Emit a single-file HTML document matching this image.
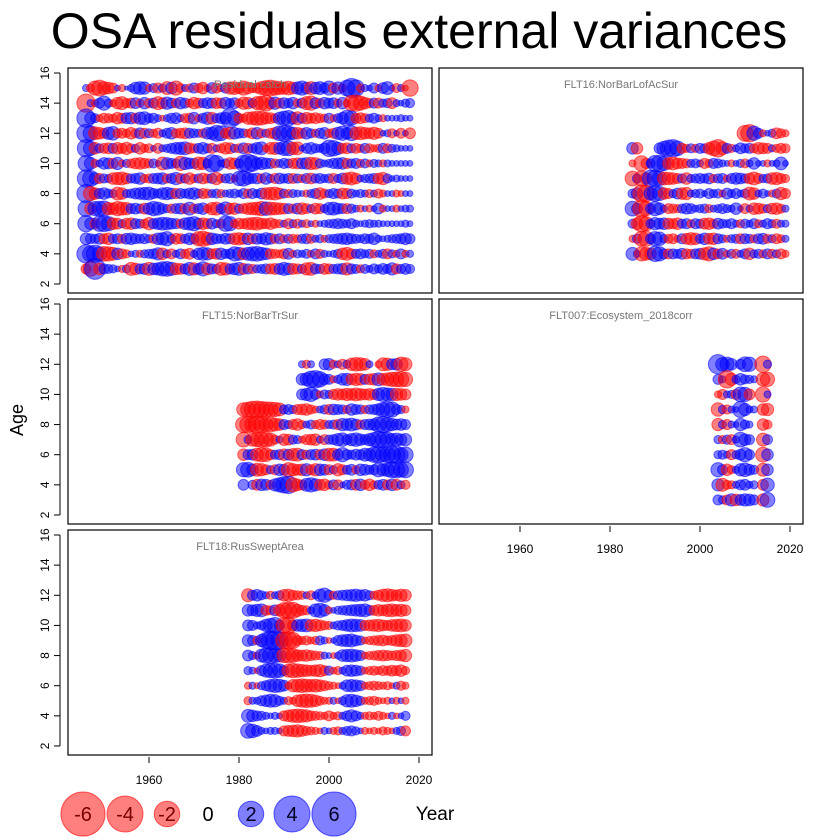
<!DOCTYPE html>
<html><head><meta charset="utf-8"><style>
body{margin:0;background:#fff}
svg{display:block;font-family:"Liberation Sans",Arial,sans-serif}
</style></head><body>
<svg id="chart" width="840" height="840" viewBox="0 0 840 840" xmlns="http://www.w3.org/2000/svg">
<text x="419" y="48" font-size="50" text-anchor="middle">OSA residuals external variances</text>
<text x="0" y="0" transform="translate(23,420) rotate(-90)" font-size="18" text-anchor="middle">Age</text>
<text x="435" y="820" font-size="19" text-anchor="middle">Year</text>
<g id="panels"></g>
<g id="legend"></g>
</svg>
<script>
// ---- data: residuals per panel, rows listed from oldest age to youngest ----
const xTickYears = [1960, 1980, 2000, 2020];
const yTickAges = [2, 4, 6, 8, 10, 12, 14, 16];
const legendValues = [-6, -4, -2, 0, 2, 4, 6];

const catchFirstYear = 1946;
const catchAges = [15,14,13,12,11,10,9,8,7,6,5,4,3];
const catchRes = [
[.3,-.4,-1.2,-1.5,-1,-.8,-.6,.2,-.3,.1,.3,.8,1,.9,-.3,.5,-.6,.4,-1,.8,-1.2,-.5,.3,-.4,.6,-.5,-.8,-.3,.7,-.6,-.3,.6,-.9,-1,-.7,-1.2,-.8,-.5,-.6,-1,-1.3,-1.5,-1.2,-1,-.9,-1.1,-.8,.9,1.2,.8,-1,.8,1,.6,1.2,-.6,.9,-.4,1.5,2.2,1.6,-.4,.3,.2,.6,-.3,.7,1,.2,-.5,.3,-.2,-1.6],
[-2,.3,-.3,.6,1.2,.4,-.3,-.8,-1,-.5,-.6,.7,-.4,.8,-.5,.6,-1,-.7,.9,.6,-.5,.8,.6,-.4,-.8,-.6,.5,.7,.6,-.7,-.6,.8,.5,.7,-.4,-.9,-.8,.5,-1,-1.2,-1.5,-.8,.9,-.6,.7,.5,.8,-.4,.6,-1,-1.2,.7,-.5,.8,.6,.7,-.4,.8,-.3,-1.4,-1.6,-1.2,-.8,-.5,.6,-.6,.4,.5,-.7,.3,.2,.4,.5],
[2,.8,.5,-.3,-.6,-.5,-.4,-.8,-.6,.7,.8,-.6,.9,1,.5,.6,.3,-.2,.3,.6,.7,.3,-.5,-.6,.8,-.3,.6,.9,-.8,.5,.7,.8,2.2,1.2,-.6,-.4,-.9,-1,-1.2,-1.1,-.8,-.7,-.5,.9,1.2,1.4,.8,-1,.6,-.8,-.6,-.7,-.5,-.4,.6,-.3,.5,.8,1.5,1.2,-.6,-.7,-.5,.4,.6,.3,-.3,.2,.2,.2,.3,.2,.2],
[2,1.3,-1,-.8,-.6,.9,1.1,-.5,-.6,-.4,-.8,-.5,.7,-.6,.5,-.4,-.6,.3,.6,.8,-.5,-.6,-.7,.6,.5,.4,-.5,.8,.9,1.5,1.3,-.6,-.8,.8,.6,.5,-.4,-.7,.8,-.5,.4,-.6,-.8,1.3,1.5,1.2,.9,-.8,-.6,.8,.5,-.4,.6,.8,-.4,-.6,.9,1.2,.8,1.3,-.9,-1,-.8,-.7,-.9,-.6,.2,.3,-.5,.2,-.6,.2,-.7],
[1.8,1.2,-.8,.5,-.6,-.7,.6,-.8,-.6,-.9,-.5,.4,-.8,-.4,-.5,.2,-.6,.3,.4,.6,.8,.9,1,-.7,-.5,.6,.8,.5,-.6,.3,-.5,-.8,-.7,.4,-.5,.7,-.6,.5,.8,1,-.3,-.8,-.9,.8,1.2,1.3,-.9,-1,.2,.6,.8,.5,.4,.7,1.6,1.4,.9,-.6,-.7,.5,-.6,-.4,.6,-.5,-.3,-.4,.6,-.5,.4,.3,.2,.2,.2],
[1.5,.9,-.4,.3,.8,.7,-.6,.9,-.3,.4,-.5,-.7,-.8,-.6,-.5,.5,.2,-1,.8,.6,.5,-1.2,.9,.7,.6,-1,-.9,.5,1.8,1.5,.3,.5,-.8,-.7,.5,1.6,2,1.5,.8,.9,.7,.6,-.5,.4,.6,.5,-.6,-.7,.7,.8,-.9,-.8,.5,.3,.4,.6,.7,.8,-.6,.5,.6,-.4,.5,-.3,.4,.3,-.3,.3,.2,.2,.2,.2,.2],
[1.8,1.5,.8,-.6,.5,.4,-.8,-.9,-1,-.7,.5,.6,.8,-.4,-.5,.6,.7,.8,-.5,.6,.9,-.6,.5,-.8,-.4,.5,-.7,-.5,.6,-.9,-.4,.5,.6,-.3,1.2,1.4,.8,.6,.7,-.5,.8,.4,-.6,.7,.5,.6,-.6,.5,-.4,.6,-.7,.5,.6,.4,.5,-.6,.4,.7,-.8,-1,-.7,.3,.4,.5,.6,-.7,-.9,.5,.2,.3,.2,.2,.2],
[2,-1.2,-.8,.6,.8,.5,.4,-1,-.8,.4,.5,.7,.8,.9,1,.6,.5,.8,.9,.7,-.6,.6,.5,.7,.8,.5,-.6,-.5,.4,.5,-.4,.3,.4,.5,.3,.6,-.5,.6,.4,.7,-.8,-.9,-1,-.7,.5,-.4,.4,.3,.2,-.3,.4,.6,-.8,-.5,.4,.6,.5,-.7,-.6,.5,.3,.4,.3,-.4,.3,-.5,-.3,.2,.2,-.3,-.2,.2,.2],
[1.5,-.8,1.2,1.3,1.4,-.9,-.8,-1.2,-1,-.9,.6,.7,.5,-.7,.8,1.2,1,.6,.4,-.5,.6,.7,-.6,1,-.5,.6,.8,-.4,-.9,-1,.6,1.1,-.7,-.8,.5,-.6,-.8,-.9,-1,-1.2,1.1,-1,-.9,-.8,-.7,.6,-.5,.7,-.8,-.6,.4,-.7,-.6,.4,.9,1,.7,.6,-.6,.5,.3,-.3,.2,-.3,.2,.7,-.3,.2,.2,-.3,.2,.3,.3],
[1.6,.8,-.6,1.4,1.5,1.2,-.8,-.7,.4,-.7,-.8,.6,.5,-.5,-.9,.6,.8,1,.9,.7,.6,-.5,.8,1,1.2,.7,-.8,-.6,.7,.4,-.5,1.4,1.2,-.4,-.7,-.6,-.8,-.9,-1,-.7,-.6,-.8,-.5,-.4,.3,-.6,.4,-.5,.3,-.4,.2,-.3,.2,.3,.4,.5,.6,.5,.4,.6,.3,.2,.3,.4,.3,.3,.2,.2,.2,.2,.2,.3,.2],
[.8,.6,.5,.7,-.6,-.8,.5,.6,-.5,.7,.8,.6,.5,.6,.4,-.5,.8,.9,1.2,.5,-.7,-.6,.5,.8,.6,-1.2,-1.4,-1,.8,.6,.5,.7,.6,-.8,-.9,-.7,.8,-.6,.7,.6,.9,.7,-.5,.6,-.4,.5,-.5,-.4,.5,.6,-.5,.3,.4,-.3,.4,.5,.6,.7,.8,.6,.5,.4,.6,.5,.8,.3,.2,.3,.4,.5,.6,.8,.6],
[2,1.5,1.8,1.2,-1.3,-1.2,-1,.8,-.6,-.4,.2,.3,-.3,.4,.5,.6,.9,-.8,.4,-.6,.3,.6,-.5,-.7,.3,.8,1,.9,-.6,-.7,.8,.5,.6,1.2,1,-.8,1,1.2,1.3,1,.8,-.6,-.5,-.4,-.6,.7,-.3,.4,.3,.5,-.3,.6,-.5,.3,.2,.3,.5,-.8,-1,-.6,.5,.6,.4,.5,-.4,.3,.5,-.6,.4,-.3,.6,-.3,.3],
[-.6,-1.3,2.6,-.8,.6,.5,.4,.2,-.3,.4,-1,-.8,.6,.7,-1,.8,.9,1.2,1.3,1,-.8,-.7,.6,1,-.9,.7,1.2,-.8,.6,.5,-1,-.9,.6,.8,1,-.7,.6,-.5,.4,.5,.6,-.6,-.7,.7,1,.8,-.7,-.6,.5,-.9,-1,.6,.5,-.7,-.6,.5,.6,.7,-.9,.6,.5,-.4,.5,.3,.6,.4,.7,.5,.9,-.6,.5,.7,.5]
];

const flt16FirstYear = 1985;
const flt16Ages = [12,11,10,9,8,7,6,5,4];
const flt16Res = [
[0,0,0,0,0,0,0,0,0,0,0,0,0,0,0,0,0,0,0,0,0,0,0,0,0,-1.5,-1.8,1.2,.6,-.3,.2,.4,-.7,-.5,-.3],
[.8,-.8,0,0,0,0,.7,1.2,1.6,1.8,1.3,-.6,-.4,.5,-.4,.6,.5,-.8,-1.3,-1.8,-1,.6,-.4,.3,.7,.5,.6,-.5,-.8,-.7,-.6,.3,-.4,-.6,-.5],
[-.3,0,-1.4,-.6,.5,1.5,1.6,1.2,-.8,-1,-.7,-.6,-.5,.4,.5,.3,-.6,-.4,.6,.5,.3,.2,-.3,.2,.4,-.5,.3,.8,.2,.2,-.3,.2,.3,1,.2],
[-1.3,.5,-1.4,-.8,1.6,1.5,1.2,-1,-.9,-.8,-.6,.5,-.8,.4,.5,.6,.5,.7,-.4,.5,.6,-.3,.6,.8,.7,.5,-.7,-1,-.6,.4,.5,-.8,-.9,-.6,-.4],
[.5,.8,-1.8,-1.6,1,1.4,1.2,-.8,-.6,.4,.7,-.8,-.9,.3,.4,.5,.2,.6,.4,.5,-.3,.7,.4,.6,.3,.5,-1,-.8,.3,.5,.2,-.3,.5,-.9,-.6],
[1.3,.7,-1.8,-1.2,.6,1.2,.8,.3,-.6,-.5,-.4,.5,.7,.6,.3,.4,.5,-.4,.3,.4,.6,.4,.3,.8,.2,-.6,.3,-.8,-.7,-.5,.4,-.7,-.8,-.5,.3],
[.5,-.8,-1.6,-1.2,.5,.9,.7,.8,-.7,-.6,-.8,.5,.6,-.4,.6,.5,-.7,-.8,-.5,.7,.5,.4,.6,.3,-.4,.5,.3,.6,-.4,.3,.6,.4,-.5,.3,.3],
[-.3,.5,-1.3,-1.4,.6,1.2,1.1,.4,-.5,-.6,-.3,.6,-.7,-.9,-.8,.5,.8,-.7,-.8,.6,.4,-.3,.4,.5,-.6,.6,.5,-.4,.6,.7,-.5,.4,-.6,-.4,.3],
[1,.3,-1.2,-1,-.8,1.4,1.2,.6,-.6,.6,.5,.7,-.6,-.5,.6,.7,-.9,-1.2,.8,-.6,.7,-.3,.5,-.5,.3,.6,-.8,.4,.5,-.4,.6,-.5,.4,-.6,-.3]
];

const flt15FirstYear = 1981;
const flt15Ages = [12,11,10,9,8,7,6,5,4];
const flt15Res = [
[0,0,0,0,0,0,0,0,0,0,0,0,0,.3,-.4,.3,0,0,.7,.8,-.4,.3,-.6,.4,-.9,-1.1,-1,-.8,.3,0,-.3,-1,-.9,.7,.8,-1.2,-1,0],
[0,0,0,0,0,0,0,0,0,0,0,0,0,.8,1,1.6,1.8,1.4,.7,.6,-.3,.4,.8,.9,-.7,-.9,-.8,.6,-.7,-.8,1,-.8,-1,-1.2,-1.3,-1.4,-1.2,0],
[0,0,0,0,0,0,0,0,0,0,0,0,0,.7,.9,1.2,.6,-.3,.5,.4,-.6,-.8,-.7,-.9,-.8,-1,-.8,-.7,-.8,-.6,.9,1.2,1,.9,-.9,-.8,-.7,0],
[-1.1,-1.3,-1.6,-1.7,-1.5,-1.4,-1.3,-1.2,-1,.5,.6,.4,-.6,-.7,-.8,-.5,-.3,.3,.5,-.6,.7,.6,.5,-.4,.8,.6,.5,-.4,.5,.6,.8,1.2,1.5,1.4,.6,.4,-.3,0],
[-1.5,-1.6,-1.4,-1.8,-1.5,-1.2,-1.3,-1,-.8,.6,.4,-.6,-.8,-.4,.3,.5,-.4,-.6,-.5,.4,.5,-.6,.9,.8,1,.7,-.5,.6,.7,.8,1.4,1.6,1.2,.9,.7,.8,.6,0],
[-1.3,.4,-1,-1.2,-1.4,-1.3,-1,-.5,.3,-.8,-.7,.5,.4,-.3,-.6,-.7,-.8,.3,-.6,.5,.6,.9,1.1,.6,.9,1.1,.8,.6,.9,1.2,1.6,1.4,1.3,.9,1,.8,.9,0],
[-.8,.6,.7,-1,-1.2,-1.1,-.6,.5,.6,-.8,.7,-.9,-1,.6,-.5,.6,.7,-.6,.8,-1,-1,.7,1.2,.6,.5,.7,.6,1,.9,1.4,1.6,1.3,1.5,1.7,1.8,1.2,1.4,0],
[1.2,1.3,.8,-1,-.9,-.6,.4,-.6,.8,.7,-1.2,-.9,-.7,-.8,.9,-.6,-.9,.8,.7,-.6,.4,-.9,-.6,.5,.7,-.4,.8,.7,.5,.6,1.2,.9,1.1,1.5,1.6,1.3,1.5,0],
[.7,0,.5,-.7,.8,.7,-.5,.9,1.2,1.6,1.8,-1.2,-.8,-.6,1,1.2,.9,-.7,-.8,-.4,.6,-.6,.2,.5,.6,-.7,.8,-.5,-.8,-.4,.5,.7,-.6,.8,-.7,.4,-.5,0]
];

const flt007FirstYear = 2004;
const flt007Ages = [12,11,10,9,8,7,6,5,4,3];
const flt007Res = [
[2.2,1.1,1.2,.8,0,.6,1.3,1.2,0,0,-1.6,.4,0,0],
[.6,.3,-1.8,-.9,.4,.8,.5,.4,.3,0,-1.1,-1.2,0,0],
[-.3,-.6,.3,.4,-.6,1.3,1.2,-.7,0,0,-1.4,.3,0,0],
[-1.1,.4,-.5,.3,.2,1.5,.9,.3,.3,0,-.8,-.9,0,0],
[-.9,.4,-.6,.3,.2,.9,.5,.3,0,0,-.8,-.5,0,0],
[.4,-.4,.5,-.6,.3,1.3,.8,.6,0,0,-1,.6,0,0],
[.4,.5,.3,-.6,.4,.7,1.2,.6,0,0,-1.3,.8,0,0],
[1.2,.6,-.8,-.4,.3,.9,1.1,.7,.5,0,-1,.8,0,0],
[.9,-1,-.5,-.4,.3,.6,.7,.3,.4,0,-.7,1.1,0,0],
[.6,.4,-.6,.9,-.8,.7,.9,.8,.6,0,-.9,1.3,0,0]
];

const flt18FirstYear = 1982;
const flt18Ages = [12,11,10,9,8,7,6,5,4,3];
const flt18Res = [
[-1,.6,.8,.5,.3,-.4,.3,.5,-.8,-.9,-.6,-.5,-.4,.3,-.5,.3,.9,1.2,.6,-.4,.5,.6,.7,.8,.9,.7,.8,.5,-.4,-.6,-.9,-1,-.8,-.7,-.9,-.8],
[.8,.7,.9,1,-.6,-.5,.7,-.8,-1.4,-1.6,-1.5,-.9,-.6,-.5,.3,1,1.2,.8,-.3,.2,.4,.5,.6,.7,.8,.9,1,.6,-.6,-.8,-.7,-.9,-1,-.8,-.9,-.7],
[.7,.6,.3,.5,.9,1.2,1.5,.6,-1.5,-1.6,-.7,.8,.9,1,-.8,-.9,-.7,-.5,-.4,.3,.5,.6,.8,1,.9,.8,-.6,-.7,-.8,-.9,-.7,-.6,-.8,-.9,-1,-.8],
[.8,.6,-.4,.9,1.5,2,2.2,1.8,-1.6,-1.8,-1.5,-.6,-.4,-.5,-.3,-.4,.5,.3,-.2,.2,.6,.8,.9,1,.7,.5,-.3,-.4,-.5,-.6,-.7,-.5,-.6,-.8,-.9,-1],
[.7,.4,-.3,1,1.4,1.5,1.2,1,-1.2,-1.3,-1.1,-.8,-.7,-.8,-.6,-.5,-.4,.3,.2,-.2,.3,.8,.9,1,.8,.6,-.3,-.4,-.5,-.6,-.7,-.6,-.5,-.6,-.7,-.9],
[.4,.3,-.2,.6,1,1.2,1.3,1.1,.6,-1,-1.2,-1.1,-.9,-.8,-.7,-.8,-.9,-.6,.5,-.3,-.4,.3,.7,.8,.7,.5,-.3,-.4,-.5,-.4,-.6,-.5,-.7,-.6,-.8,-.4],
[-.3,.3,-.2,.4,.6,.9,1.1,1,.7,-.3,-.9,-1,-1.1,-1,-.9,-1,-.8,-.6,-.4,-.3,-.2,.3,.8,.9,.8,.6,-.3,-.4,-.5,-.4,-.3,-.4,-.2,.3,-.5,-.3],
[-.4,.3,.3,.6,.8,1,.9,.5,.3,-.4,-.3,-.8,-1,-1.1,-1,-.8,-.5,-.3,-.3,.3,-.2,.4,.9,1,.8,.5,-.3,-.4,-.5,-.3,-.2,-.3,.2,-.3,.2,-.3],
[1,.8,.6,.5,.3,.2,.3,.2,-.6,-.8,-1,-1.1,-1,-.9,-.6,-.5,-.4,-.3,-.6,-.3,-.4,.3,.6,.9,.6,.3,-.3,-.4,-.3,-.5,-.3,-.2,.3,-.2,.2,.5],
[1.3,1.1,.7,.3,.2,.3,.3,.2,-.6,-.7,-.8,-.9,-.7,-.5,-.4,-.3,-.2,.3,.2,-.3,-.4,.3,.5,.6,.4,.2,-.3,-.2,-.3,-.2,-.4,-.3,-.2,.3,.5,-.6]
];

// ---- layout ----
const NS = 'http://www.w3.org/2000/svg';
const panelsG = document.getElementById('panels');
function mk(tag, attrs, parent){ const e=document.createElementNS(NS,tag); for(const k in attrs) e.setAttribute(k,attrs[k]); (parent||panelsG).appendChild(e); return e; }
function rad(v){ return 9*Math.sqrt(Math.abs(v)); }
const panelRadiusFactor = 0.72;

const panels = [
 {name:'residual-catch', title:'Residual catch', x0:68, y0:68, first:catchFirstYear, ages:catchAges, res:catchRes, yAxis:true, xAxis:false},
 {name:'flt16-norbarlofacsur', title:'FLT16:NorBarLofAcSur', x0:439, y0:68, first:flt16FirstYear, ages:flt16Ages, res:flt16Res, yAxis:false, xAxis:false},
 {name:'flt15-norbartrsur', title:'FLT15:NorBarTrSur', x0:68, y0:299, first:flt15FirstYear, ages:flt15Ages, res:flt15Res, yAxis:true, xAxis:false},
 {name:'flt007-ecosystem', title:'FLT007:Ecosystem_2018corr', x0:439, y0:299, first:flt007FirstYear, ages:flt007Ages, res:flt007Res, yAxis:false, xAxis:true},
 {name:'flt18-russweptarea', title:'FLT18:RusSweptArea', x0:68, y0:530, first:flt18FirstYear, ages:flt18Ages, res:flt18Res, yAxis:true, xAxis:true}
];
const PW=364, PH=225;

panels.forEach(p=>{
  const g = mk('g',{});
  
  
  const xs = yr => p.x0 + 81 + (yr-1960)*4.5;
  const ys = age => p.y0 + 5 + (16-age)*15.07;
  const r = mk('rect',{x:p.x0,y:p.y0,width:PW,height:PH,fill:'none',stroke:'#000','stroke-width':1.2},g);
  
  
  const bg = mk('g',{},g);
  
  
  p.res.forEach((row,i)=>{
    row.forEach((v,j)=>{
      if(!v) return;
      const col = v<0 ? '#ff0000' : '#0000ff';
      const c = mk('circle',{cx:xs(p.first+j),cy:ys(p.ages[i]),r:rad(v)*panelRadiusFactor,fill:col,'fill-opacity':0.5,stroke:col,'stroke-opacity':0.55,'stroke-width':1},bg);
      
      
    });
  });
  const t = mk('text',{x:p.x0+PW/2,y:p.y0+20,'font-size':11,fill:'#777','text-anchor':'middle'},g);
  t.textContent = p.title;
  
  
  if(p.yAxis){
    const ag = mk('g',{},g);
    
    
    mk('line',{x1:p.x0-8,x2:p.x0-8,y1:ys(16),y2:ys(2),stroke:'#000'},ag);
    yTickAges.forEach(a=>{
      mk('line',{x1:p.x0-8,x2:p.x0-14,y1:ys(a),y2:ys(a),stroke:'#000'},ag);
      const tl = mk('text',{transform:`translate(${p.x0-19},${ys(a)}) rotate(-90)`,'font-size':12,'text-anchor':'middle'},ag);
      tl.textContent = a;
      
      
    });
  }
  if(p.xAxis){
    const xg = mk('g',{},g);
    
    
    const yb = p.y0+PH;
    xTickYears.forEach(yr=>{
      mk('line',{x1:xs(yr),x2:xs(yr),y1:yb+2,y2:yb+8,stroke:'#000'},xg);
      const tl = mk('text',{x:xs(yr),y:yb+29,'font-size':12,'text-anchor':'middle'},xg);
      tl.textContent = yr;
      
      
    });
  }
});

// legend
const lg = document.getElementById('legend');
const legendX = [83,125,167,208,251,292,334];
legendValues.forEach((v,i)=>{
  if(v!==0){
    const col = v<0 ? '#ff0000' : '#0000ff';
    const c = mk('circle',{cx:legendX[i],cy:814,r:rad(v),fill:col,'fill-opacity':0.5,stroke:col,'stroke-opacity':0.6},lg);
    
    
  }
  const t = mk('text',{x:legendX[i],y:821,'font-size':20,'text-anchor':'middle',fill:v<0?'#700':(v>0?'#002':'#000')},lg);
  t.textContent = v;
  
  
});
</script>
</body></html>
